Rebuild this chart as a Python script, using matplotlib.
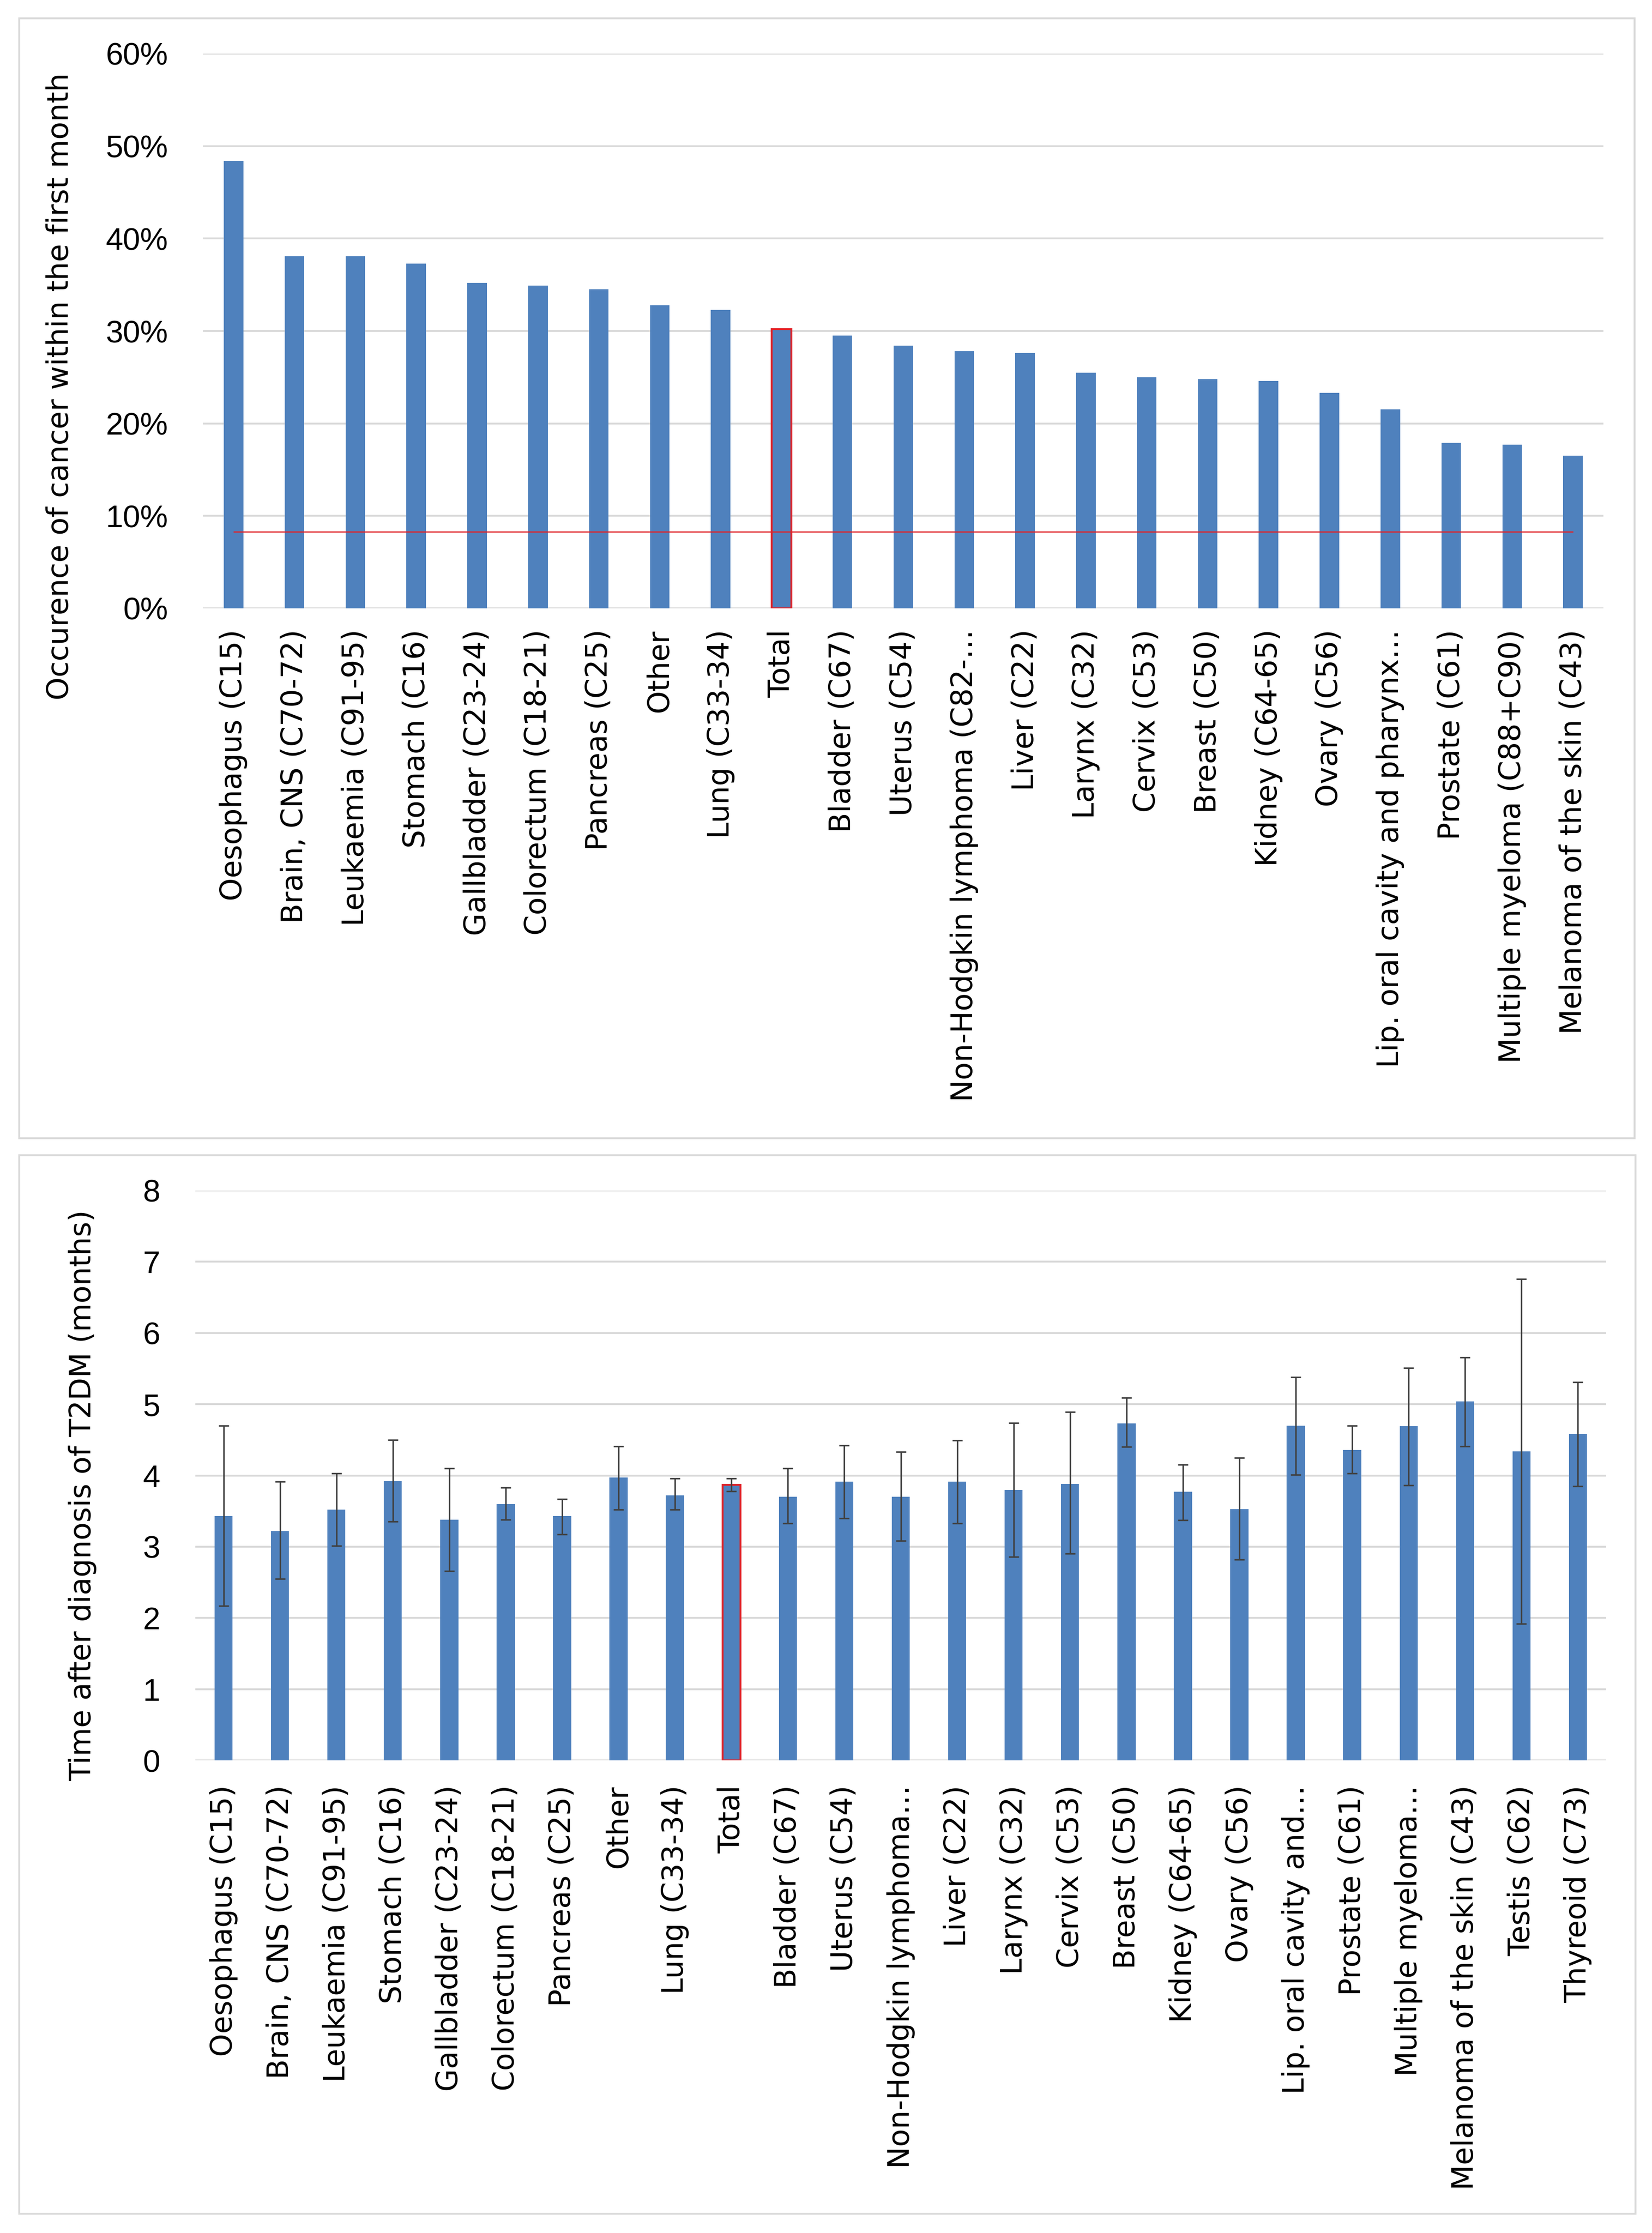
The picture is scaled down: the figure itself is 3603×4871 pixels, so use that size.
import matplotlib
matplotlib.use("Agg")
import matplotlib.pyplot as plt
from matplotlib.patches import Rectangle
from matplotlib.ticker import FuncFormatter

# top chart: share of cancers diagnosed within the first month
top_labels = ["Oesophagus (C15)", "Brain, CNS (C70-72)", "Leukaemia (C91-95)", "Stomach (C16)",
              "Gallbladder (C23-24)", "Colorectum (C18-21)", "Pancreas (C25)", "Other",
              "Lung (C33-34)", "Total", "Bladder (C67)", "Uterus (C54)",
              "Non-Hodgkin lymphoma (C82-\u2026", "Liver (C22)", "Larynx (C32)", "Cervix (C53)",
              "Breast (C50)", "Kidney (C64-65)", "Ovary (C56)", "Lip. oral cavity and pharynx\u2026",
              "Prostate (C61)", "Multiple myeloma (C88+C90)", "Melanoma of the skin (C43)"]
top_values = [48.4, 38.1, 38.1, 37.3, 35.2, 34.9, 34.5, 32.8, 32.3, 30.2, 29.5, 28.4,
              27.8, 27.6, 25.5, 25.0, 24.8, 24.6, 23.3, 21.5, 17.9, 17.7, 16.5]
expected_level = 8.3

# bottom chart: mean time after T2DM diagnosis with CI
bottom_labels = ["Oesophagus (C15)", "Brain, CNS (C70-72)", "Leukaemia (C91-95)", "Stomach (C16)",
                 "Gallbladder (C23-24)", "Colorectum (C18-21)", "Pancreas (C25)", "Other",
                 "Lung (C33-34)", "Total", "Bladder (C67)", "Uterus (C54)",
                 "Non-Hodgkin lymphoma\u2026", "Liver (C22)", "Larynx (C32)", "Cervix (C53)",
                 "Breast (C50)", "Kidney (C64-65)", "Ovary (C56)", "Lip. oral cavity and\u2026",
                 "Prostate (C61)", "Multiple myeloma\u2026", "Melanoma of the skin (C43)",
                 "Testis (C62)", "Thyreoid (C73)"]
bottom_values = [3.43, 3.22, 3.52, 3.92, 3.38, 3.60, 3.43, 3.97, 3.72, 3.87, 3.70, 3.91,
                 3.70, 3.91, 3.80, 3.88, 4.73, 3.77, 3.53, 4.70, 4.36, 4.69, 5.04, 4.34, 4.58]
bottom_upper = [4.70, 3.91, 4.03, 4.50, 4.10, 3.83, 3.67, 4.41, 3.96, 3.96, 4.10, 4.42,
                4.33, 4.49, 4.74, 4.89, 5.09, 4.15, 4.25, 5.38, 4.70, 5.51, 5.66, 6.76, 5.31]
bottom_lower = [2.17, 2.55, 3.01, 3.35, 2.66, 3.38, 3.17, 3.52, 3.52, 3.78, 3.33, 3.40,
                3.08, 3.33, 2.86, 2.90, 4.40, 3.37, 2.82, 4.01, 4.03, 3.86, 4.41, 1.92, 3.85]

BLUE = "#4F81BD"
RED = "#E0242A"
GRID = "#D9D9D9"
W, H = 3603, 4871
num_font = ["Liberation Sans", "DejaVu Sans"]

fig = plt.figure(figsize=(W / 100, H / 100), dpi=100)
fig.patch.set_facecolor("white")

# panel frames
for (x0, y0, x1, y1) in [(42, 40, 3565, 2483), (42, 2520, 3567, 4829)]:
    fig.add_artist(Rectangle((x0 / W, 1 - y1 / H), (x1 - x0) / W, (y1 - y0) / H,
                             transform=fig.transFigure, fill=False, edgecolor=GRID, lw=3))


def style_axes(ax, labels, pad):
    for s in ax.spines.values():
        s.set_visible(False)
    ax.set_axisbelow(True)
    ax.yaxis.grid(True, color=GRID, lw=2.9)
    ax.set_xticks(range(len(labels)))
    ax.set_xticklabels(labels, rotation=90, fontsize=46, family="DejaVu Sans")
    ax.tick_params(axis="x", length=0, pad=pad)
    ax.tick_params(axis="y", length=0, pad=55, labelsize=49)
    for t in ax.get_yticklabels():
        t.set_family(num_font)
    ax.set_xlim(-0.5, len(labels) - 0.5)


# ---- top chart
ax1 = fig.add_axes([443 / W, 1 - 1327 / H, (3497 - 443) / W, (1327 - 117) / H])
x1 = list(range(len(top_labels)))
bars = ax1.bar(x1, top_values, width=0.32, color=BLUE, zorder=2)
ti = top_labels.index("Total")
bars[ti].set_edgecolor(RED)
bars[ti].set_linewidth(3)
ax1.hlines(expected_level, x1[0], x1[-1], color=RED, lw=2.4, alpha=0.8, zorder=3)
ax1.set_ylim(0, 60)
ax1.set_yticks(range(0, 61, 10))
ax1.yaxis.set_major_formatter(FuncFormatter(lambda v, p: f"{v:.0f}%"))
style_axes(ax1, top_labels, 33)
fig.text(131 / W, 1 - 843 / H, "Occurence of cancer within the first month", rotation=90,
         ha="center", va="center", fontsize=46, family="DejaVu Sans")

# ---- bottom chart
ax2 = fig.add_axes([426 / W, 1 - 3840 / H, (3503 - 426) / W, (3840 - 2597) / H])
x2 = list(range(len(bottom_labels)))
err = [[v - lo for v, lo in zip(bottom_values, bottom_lower)],
       [hi - v for v, hi in zip(bottom_values, bottom_upper)]]
bars2 = ax2.bar(x2, bottom_values, width=0.32, color=BLUE, zorder=2,
                yerr=err, error_kw=dict(ecolor="#404040", elinewidth=2.4, capsize=8, capthick=2.4, zorder=4))
bi = bottom_labels.index("Total")
bars2[bi].set_edgecolor(RED)
bars2[bi].set_linewidth(3)
ax2.set_ylim(0, 8)
ax2.set_yticks(range(0, 9))
style_axes(ax2, bottom_labels, 39)
fig.text(180 / W, 1 - 3262 / H, "Time after diagnosis of T2DM (months)", rotation=90,
         ha="center", va="center", fontsize=46, family="DejaVu Sans")

fig.savefig("out.png", dpi=100, facecolor="white")
